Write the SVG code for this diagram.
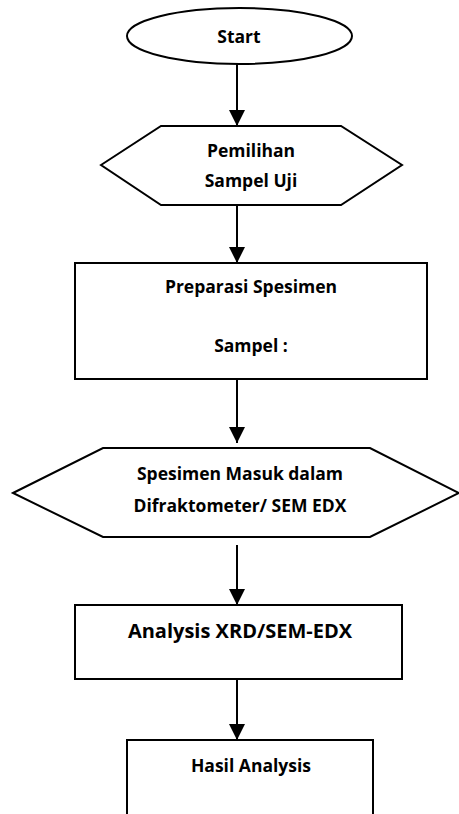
<svg xmlns="http://www.w3.org/2000/svg" width="459" height="814" viewBox="0 0 459 814">
<defs>
<marker id="ah" markerUnits="userSpaceOnUse" markerWidth="16" markerHeight="16" viewBox="0 0 16 16" refX="16" refY="8" orient="auto">
<path d="M0,0 L16,8 L0,16 Z" fill="#000"/>
</marker>
<style>
.s{fill:#fff;stroke:#000;stroke-width:2}
.t{font-family:"Open Sans",Lato,"Liberation Sans",sans-serif;font-weight:bold;font-size:17.5px;fill:#000;text-anchor:middle}
.big{font-size:20px}
.c{stroke:#000;stroke-width:2;fill:none;marker-end:url(#ah)}
</style>
</defs>
<rect width="459" height="814" fill="#fff"/>
<g id="connectors">
<line class="c" x1="237" y1="64" x2="237" y2="126"/>
<line class="c" x1="237" y1="205" x2="237" y2="263"/>
<line class="c" x1="237" y1="380" x2="237" y2="443"/>
<line class="c" x1="237" y1="545" x2="237" y2="605"/>
<line class="c" x1="237" y1="680" x2="237" y2="740"/>
</g>
<g id="start">
<ellipse class="s" cx="239.5" cy="36" rx="112.5" ry="28"/>
<text class="t" x="239" y="43">Start</text>
</g>
<g id="pemilihan">
<polygon class="s" points="101,165 161,126 341,126 402,165 341,205 161,205"/>
<text class="t" x="251" y="157">Pemilihan</text>
<text class="t" x="251" y="187">Sampel Uji</text>
</g>
<g id="preparasi">
<rect class="s" x="75" y="263" width="352" height="116"/>
<text class="t" x="251" y="293">Preparasi Spesimen</text>
<text class="t" x="251" y="352">Sampel :</text>
</g>
<g id="spesimen">
<polygon class="s" points="13,493 103,448 370,448 459,493 370,537 103,537"/>
<text class="t" x="240" y="480">Spesimen Masuk dalam</text>
<text class="t" x="240" y="512">Difraktometer/ SEM EDX</text>
</g>
<g id="analysis">
<rect class="s" x="75" y="605" width="327" height="74"/>
<text class="t big" x="240" y="638">Analysis XRD/SEM-EDX</text>
</g>
<g id="hasil">
<rect class="s" x="127" y="740" width="246" height="90"/>
<text class="t" x="251" y="772">Hasil Analysis</text>
</g>
</svg>
